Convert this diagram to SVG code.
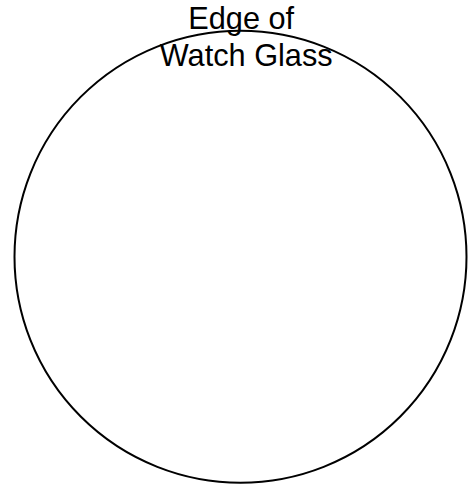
<svg xmlns="http://www.w3.org/2000/svg" width="474" height="485" viewBox="0 0 474 485">
<style>
.lbl{font-family:"Liberation Sans",Arial,sans-serif;font-size:30.7px;fill:#000}
</style>
<rect width="474" height="485" fill="#fff"/>
<g id="watch-glass">
<circle cx="240.5" cy="256.7" r="226" fill="none" stroke="#000" stroke-width="2"/>
</g>
<g id="label">
<text class="lbl" x="188.3" y="29.3">Edge of</text>
<text class="lbl" x="159.8" y="65.7">Watch Glass</text>
</g>
<g id="connectors"/>
</svg>
